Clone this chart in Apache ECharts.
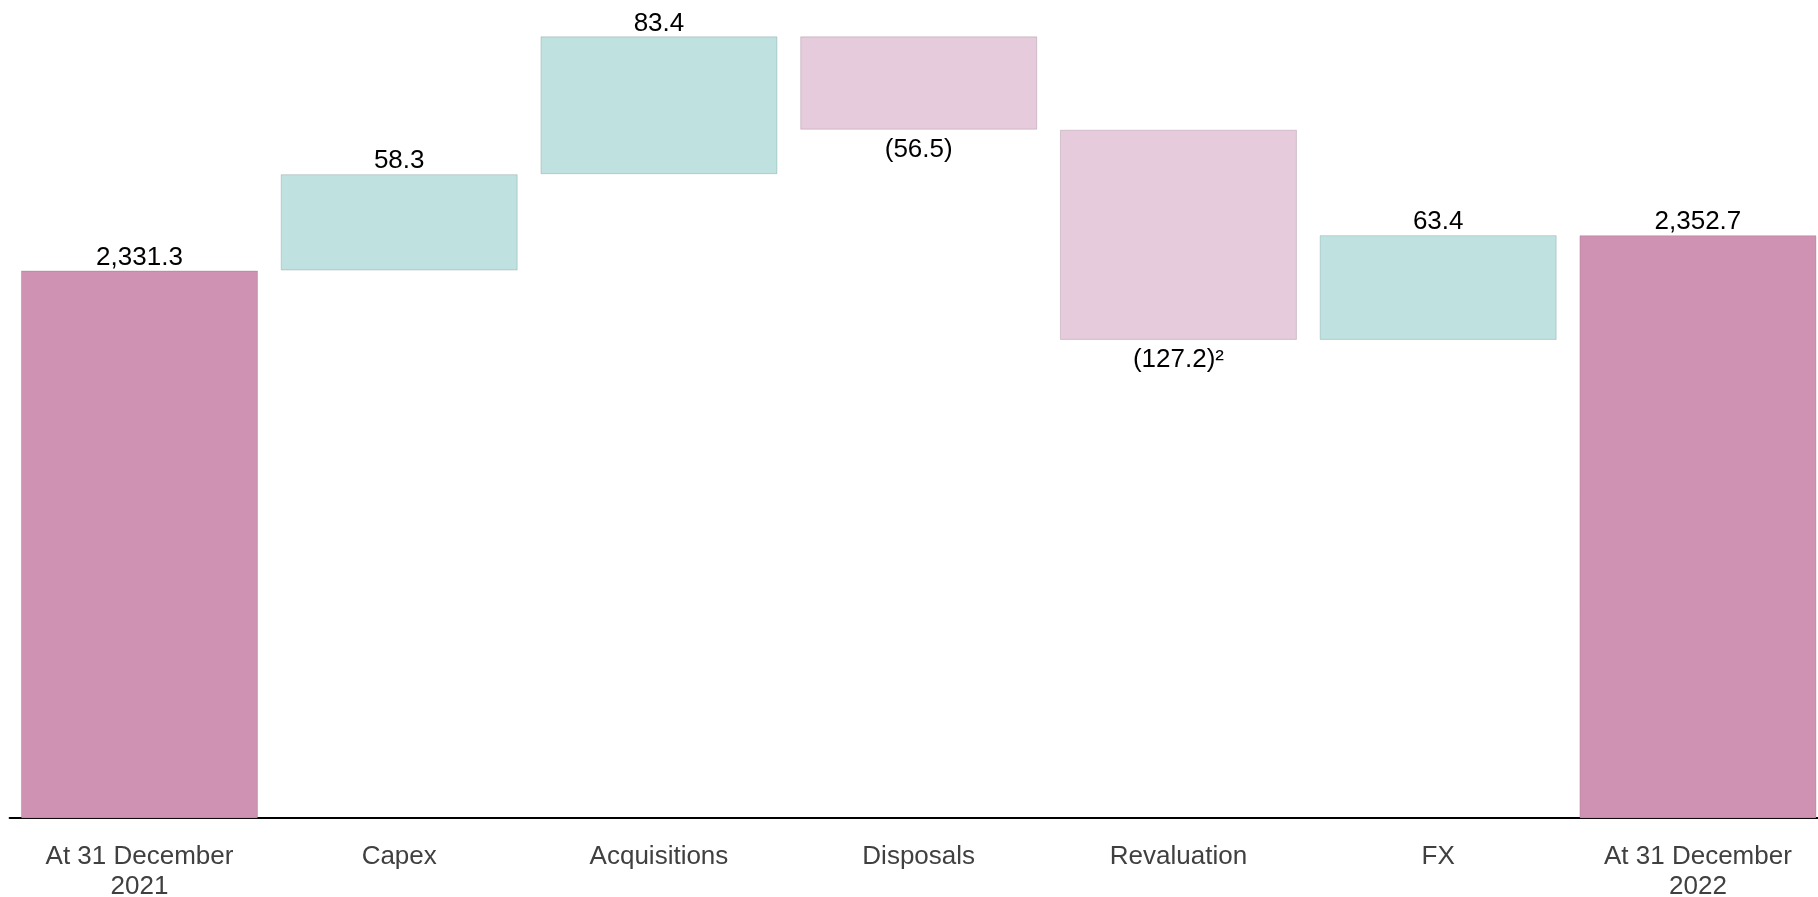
<!DOCTYPE html>
<html>
<head>
<meta charset="utf-8">
<script src="https://cdn.jsdelivr.net/npm/echarts@6/dist/echarts.min.js"></script>
<style>
  html, body { margin: 0; padding: 0; background: #ffffff; }
  #chart { width: 1818px; height: 897px; }
</style>
</head>
<body>
<div id="chart"></div>
<script>
// Property portfolio bridge, 2021 → 2022
const categories = [
  'At 31 December\n2021', 'Capex', 'Acquisitions', 'Disposals',
  'Revaluation', 'FX', 'At 31 December\n2022'
];
const openingTotal = 2331.3;
const movements = [58.3, 83.4, -56.5, -127.2, 63.4];
const closingTotal = 2352.7;
const footnotes = ['', '', '', '', '²', '', ''];

const totalColor = '#CF92B3';
const upColor = '#BFE1E0';
const downColor = '#E6CBDC';

// Waterfall as one stack: invisible base, then totals / increases / decreases
const base = ['-'], totals = [openingTotal], ups = ['-'], downs = ['-'];
let running = openingTotal;
movements.forEach(function (m) {
  if (m >= 0) { base.push(running); ups.push(m); downs.push('-'); }
  else { base.push(running + m); ups.push('-'); downs.push(-m); }
  totals.push('-');
  running += m;
});
base.push('-'); totals.push(closingTotal); ups.push('-'); downs.push('-');

const fmtTotal = v => v.toLocaleString('en-US', { minimumFractionDigits: 1, maximumFractionDigits: 1 });
const labelFont = { fontFamily: 'Liberation Sans, Arial, sans-serif', fontSize: 26, color: '#000000' };

const chart = echarts.init(document.getElementById('chart'), null, { renderer: 'canvas' });
chart.setOption({
  animation: false,
  backgroundColor: '#ffffff',
  grid: {
    left: 9.6, top: 0, width: 1818.2, height: 818,
    containLabel: false, outerBoundsMode: 'none'
  },
  xAxis: {
    type: 'category',
    data: categories,
    axisLine: { show: true, lineStyle: { color: '#000000', width: 2 } },
    axisTick: { show: false },
    splitLine: { show: false },
    axisLabel: {
      interval: 0,
      margin: 24,
      fontFamily: 'Liberation Sans, Arial, sans-serif',
      fontSize: 26,
      lineHeight: 30,
      color: '#404040'
    }
  },
  yAxis: {
    type: 'value',
    min: 2000,
    max: 2495,
    show: false,
    splitLine: { show: false }
  },
  series: [
    {
      name: 'base', type: 'bar', stack: 'wf', data: base, barWidth: 237,
      itemStyle: { color: 'transparent' }, silent: true
    },
    {
      name: 'total', type: 'bar', stack: 'wf', data: totals,
      itemStyle: { color: totalColor, borderColor: 'rgba(120,80,100,0.25)', borderWidth: 1 },
      label: Object.assign({
        show: true, position: 'top', distance: 0,
        formatter: p => fmtTotal(p.value) + footnotes[p.dataIndex]
      }, labelFont)
    },
    {
      name: 'increase', type: 'bar', stack: 'wf', data: ups,
      itemStyle: { color: upColor, borderColor: 'rgba(80,120,120,0.25)', borderWidth: 1 },
      label: Object.assign({
        show: true, position: 'top', distance: 0,
        formatter: p => p.value.toFixed(1) + footnotes[p.dataIndex]
      }, labelFont)
    },
    {
      name: 'decrease', type: 'bar', stack: 'wf', data: downs,
      itemStyle: { color: downColor, borderColor: 'rgba(120,90,110,0.25)', borderWidth: 1 },
      label: Object.assign({
        show: true, position: 'bottom', distance: 7,
        formatter: p => '(' + p.value.toFixed(1) + ')' + footnotes[p.dataIndex]
      }, labelFont)
    }
  ]
});
</script>
</body>
</html>
